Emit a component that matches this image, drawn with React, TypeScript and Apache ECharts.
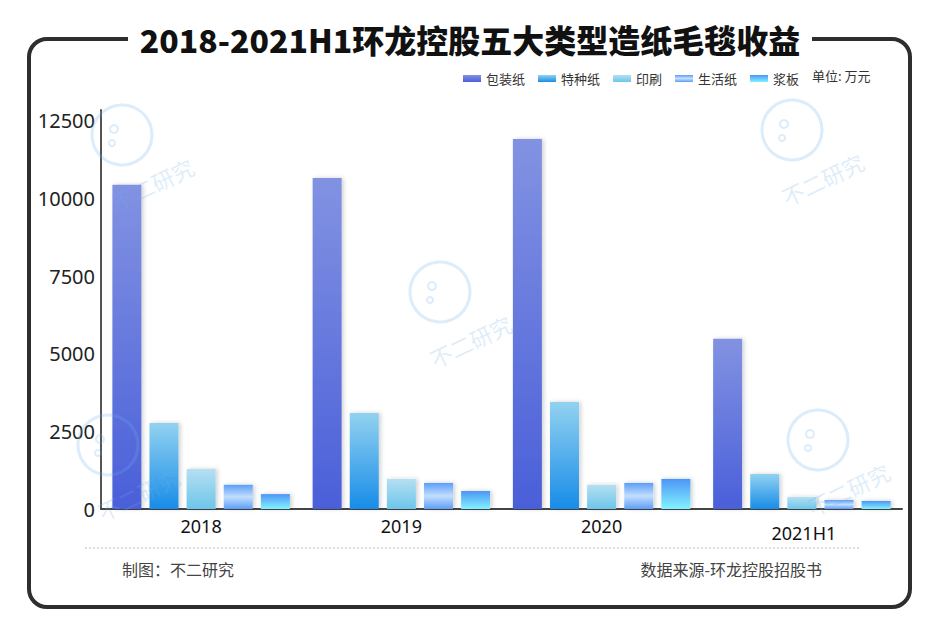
import React, { useEffect, useRef } from "react";
import * as echarts from "echarts";

const categories = ["2018", "2019", "2020", "2021H1"];
const seriesNames = ["包装纸", "特种纸", "印刷", "生活纸", "浆板"];
const packaging = [10440, 10660, 11920, 5480];
const specialty = [2770, 3090, 3450, 1130];
const printing = [1290, 970, 780, 390];
const household = [780, 840, 840, 290];
const pulpboard = [480, 580, 970, 260];
const yTicks = [0, 2500, 5000, 7500, 10000, 12500];

const titleText = "2018-2021H1环龙控股五大类型造纸毛毯收益";
const unitText = "单位: 万元";
const makerText = "制图：不二研究";
const sourceText = "数据来源-环龙控股招股书";
const watermarkText = "不二研究";

const grad = (stops: [number, string][]) =>
  new echarts.graphic.LinearGradient(
    0, 0, 0, 1,
    stops.map(([offset, color]) => ({ offset, color }))
  );

const colors = [
  grad([[0, "#8292e2"], [1, "#4a5fd9"]]),
  grad([[0, "#92d2f0"], [1, "#188ce8"]]),
  grad([[0, "#b6dff2"], [1, "#6cc6ea"]]),
  grad([[0, "#5c9ef8"], [0.5, "#c2deff"], [1, "#5c9ef8"]]),
  grad([[0, "#4d95f5"], [1, "#82f3ff"]]),
];

const dataSets = [packaging, specialty, printing, household, pulpboard];

const watermarkPos: [number, number][] = [
  [122, 135],
  [440, 292],
  [792, 130],
  [818, 440],
  [108, 445],
];

export default function App() {
  const ref = useRef<HTMLDivElement>(null);
  useEffect(() => {
    if (!ref.current) return;
    const chart = echarts.init(ref.current, undefined, { renderer: "svg" });

    const watermarks: any[] = [];
    watermarkPos.forEach(([cx, cy]) => {
      watermarks.push({
        type: "circle",
        shape: { cx, cy, r: 30 },
        style: { fill: "none", stroke: "rgba(110,175,235,0.24)", lineWidth: 3 },
        z: 100,
        silent: true,
      });
      watermarks.push({
        type: "circle",
        shape: { cx: cx - 8, cy: cy - 6, r: 4 },
        style: { fill: "none", stroke: "rgba(110,175,235,0.24)", lineWidth: 2 },
        z: 100,
        silent: true,
      });
      watermarks.push({
        type: "circle",
        shape: { cx: cx - 10, cy: cy + 8, r: 3 },
        style: { fill: "none", stroke: "rgba(110,175,235,0.24)", lineWidth: 2 },
        z: 100,
        silent: true,
      });
      watermarks.push({
        type: "text",
        x: cx - 14,
        y: cy + 58,
        rotation: 0.45,
        style: {
          text: watermarkText,
          font: "22px 'Noto Sans CJK SC'",
          fill: "rgba(110,175,235,0.24)",
        },
        z: 100,
        silent: true,
      });
    });

    chart.setOption({
      animation: false,
      backgroundColor: "#ffffff",
      grid: { left: 101, right: 38, top: 110, bottom: 135, containLabel: false },
      legend: {
        data: seriesNames,
        left: 458,
        top: 67,
        itemWidth: 18,
        itemHeight: 7,
        itemGap: 13,
        icon: "rect",
        textStyle: { fontSize: 13, color: "#333", fontFamily: "'Noto Sans CJK SC'" },
      },
      xAxis: {
        type: "category",
        data: categories,
        axisLine: { lineStyle: { color: "#444", width: 2 } },
        axisTick: { show: false },
        axisLabel: {
          fontSize: 18,
          color: "#111",
          fontFamily: "'Noto Sans', 'Noto Sans CJK SC'",
          margin: 8,
          formatter: (v: string) => (v === "2021H1" ? "{low|" + v + "}" : v),
          rich: {
            low: {
              fontSize: 18,
              color: "#111",
              fontFamily: "'Noto Sans', 'Noto Sans CJK SC'",
              padding: [7, 0, 0, 4],
            },
          },
        },
      },
      yAxis: {
        type: "value",
        min: 0,
        max: 12850,
        interval: 2500,
        axisLine: { show: true, lineStyle: { color: "#555", width: 2 } },
        axisTick: { show: false },
        splitLine: { show: false },
        axisLabel: {
          fontSize: 20,
          color: "#222",
          fontFamily: "'Noto Sans'",
          margin: 6,
          showMaxLabel: false,
          formatter: (v: number) => (yTicks.includes(v) ? String(v) : ""),
        },
      },
      series: seriesNames.map((name, i) => ({
        name,
        type: "bar",
        data: dataSets[i],
        barWidth: 29,
        barGap: "28%",
        itemStyle: {
          color: colors[i],
          shadowColor: "rgba(0,0,0,0.18)",
          shadowBlur: 4,
          shadowOffsetX: 2,
          shadowOffsetY: 0,
        },
      })),
      graphic: [
        {
          type: "rect",
          shape: { x: 29, y: 39, width: 881, height: 568, r: 18 },
          style: { fill: "none", stroke: "#2e2e2e", lineWidth: 4 },
          z: 0,
          silent: true,
        },
        {
          type: "rect",
          shape: { x: 128, y: 20, width: 684, height: 40 },
          style: { fill: "#ffffff" },
          z: 1,
          silent: true,
        },
        {
          type: "text",
          x: 470,
          y: 39,
          style: {
            text: titleText,
            font: "900 32px 'Noto Sans CJK SC'",
            fill: "#111",
            align: "center",
            verticalAlign: "middle",
          },
          z: 2,
          silent: true,
        },
        {
          type: "text",
          x: 812,
          y: 75,
          style: {
            text: unitText,
            font: "13px 'Noto Sans CJK SC'",
            fill: "#333",
            verticalAlign: "middle",
          },
          z: 2,
        },
        {
          type: "line",
          shape: { x1: 85, y1: 548, x2: 860, y2: 548 },
          style: { stroke: "#bbbbbb", lineWidth: 1, lineDash: [2, 2] },
          z: 2,
        },
        {
          type: "text",
          x: 122,
          y: 569,
          style: {
            text: makerText,
            font: "16px 'Noto Sans CJK SC'",
            fill: "#444",
            verticalAlign: "middle",
          },
          z: 2,
        },
        {
          type: "text",
          x: 822,
          y: 569,
          style: {
            text: sourceText,
            font: "16px 'Noto Sans CJK SC'",
            fill: "#444",
            align: "right",
            verticalAlign: "middle",
          },
          z: 2,
        },
        ...watermarks,
      ],
    });
    return () => chart.dispose();
  }, []);

  return (
    <div
      ref={ref}
      style={{ position: "fixed", left: 0, top: 0, width: 940, height: 644, background: "#fff" }}
    />
  );
}
